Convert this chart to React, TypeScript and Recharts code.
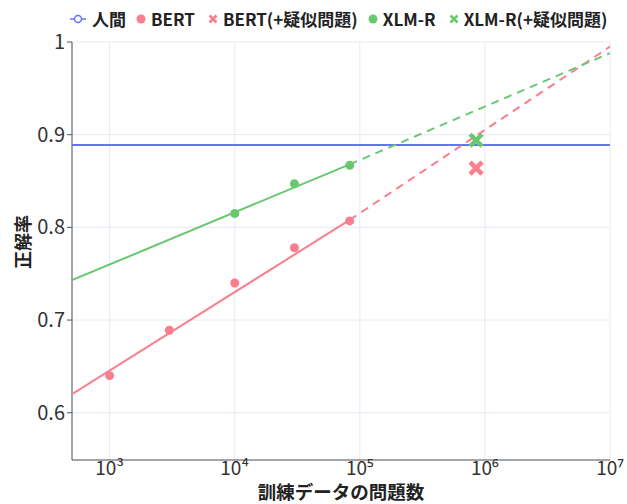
import React from 'react';
import {
  ComposedChart,
  Scatter,
  XAxis,
  YAxis,
  CartesianGrid,
} from 'recharts';

// values
const decadeTicks = [1e3, 1e4, 1e5, 1e6, 1e7];
const accTicks = [0.6, 0.7, 0.8, 0.9, 1];

const bertSizes = [1000, 3000, 10000, 30000, 83000];
const bertAcc = [0.64, 0.689, 0.74, 0.778, 0.807];
const xlmrSizes = [10000, 30000, 83000];
const xlmrAcc = [0.815, 0.847, 0.867];

const pseudoSizes = [850000];
const bertPseudoAcc = [0.864];
const xlmrPseudoAcc = [0.894];

const humanSpan = [500, 1e7];
const humanAcc = [0.889, 0.889];

// regression fits: solid over the data range, dashed beyond
const fitSolidSizes = [500, 83000];
const fitDashSizes = [83000, 1e7];
const bertFitSolid = [0.62, 0.808];
const bertFitDash = [0.808, 0.995];
const xlmrFitSolid = [0.743, 0.868];
const xlmrFitDash = [0.868, 0.988];

const BLUE = '#6275F3';
const RED = '#FB7E8C';
const GREEN = '#68C870';
const FONT = '"Noto Sans CJK JP", "Noto Sans", sans-serif';

const zip = (xs: number[], ys: number[]) => xs.map((x, i) => ({ x, y: ys[i] }));

const SUP: Record<string, string> = { '3': '³', '4': '⁴', '5': '⁵', '6': '⁶', '7': '⁷' };
const fmtDecade = (v: number) => '10' + SUP[String(Math.round(Math.log10(v)))];

const NoDot = () => <g />;

const Dot = (color: string) => (p: any) => (
  <circle cx={p.cx} cy={p.cy} r={4.5} fill={color} />
);

const Cross = (color: string) => (p: any) => (
  <path
    d={`M${p.cx - 6},${p.cy - 6}L${p.cx + 6},${p.cy + 6}M${p.cx - 6},${p.cy + 6}L${p.cx + 6},${p.cy - 6}`}
    stroke={color}
    strokeWidth={4.5}
  />
);

function LegendRow() {
  const txt = { fontWeight: 700, fontSize: 17, color: '#222', lineHeight: '20px' } as const;
  const mark = (ml: number) => ({ marginLeft: ml, marginRight: 4 });
  return (
    <div
      style={{
        position: 'absolute',
        top: 9,
        left: 69,
        display: 'flex',
        alignItems: 'center',
        fontFamily: FONT,
        whiteSpace: 'nowrap',
      }}
    >
      <svg width={18} height={12} style={{ marginRight: 5 }}>
        <line x1={1} y1={6} x2={17} y2={6} stroke={BLUE} strokeWidth={1.5} />
        <circle cx={9} cy={6} r={3.5} fill="#fff" stroke={BLUE} strokeWidth={1.5} />
      </svg>
      <span style={txt}>人間</span>

      <svg width={12} height={12} style={mark(9)}>
        <circle cx={6} cy={6} r={4.5} fill={RED} />
      </svg>
      <span style={txt}>BERT</span>

      <svg width={12} height={12} style={mark(12)}>
        <path d="M2.5,2.5L9.5,9.5M2.5,9.5L9.5,2.5" stroke={RED} strokeWidth={2.5} />
      </svg>
      <span style={txt}>BERT(+疑似問題)</span>

      <svg width={12} height={12} style={mark(9)}>
        <circle cx={6} cy={6} r={4.5} fill={GREEN} />
      </svg>
      <span style={txt}>XLM-R</span>

      <svg width={12} height={12} style={mark(12)}>
        <path d="M2.5,2.5L9.5,9.5M2.5,9.5L9.5,2.5" stroke={GREEN} strokeWidth={2.5} />
      </svg>
      <span style={txt}>XLM-R(+疑似問題)</span>
    </div>
  );
}

export default function App() {
  return (
    <div style={{ position: 'absolute', left: 0, top: 0, width: 627, height: 504, background: '#fff' }}>
      <LegendRow />
      <ComposedChart
        width={627}
        height={504}
        margin={{ top: 42, right: 17, left: 10, bottom: 0 }}
      >
        <CartesianGrid stroke="#E6EAF2" strokeWidth={1} />

        <XAxis
          dataKey="x"
          type="number"
          scale="log"
          domain={[500, 1e7]}
          allowDataOverflow
          ticks={decadeTicks}
          tickFormatter={fmtDecade}
          height={44}
          tickLine={false}
          tickSize={0}
          tickMargin={2}
          axisLine={{ stroke: '#555' }}
          tick={{ fill: '#333', fontSize: 19, fontFamily: FONT }}
          label={{
            content: () => (
              <text
                x={341}
                y={491}
                textAnchor="middle"
                dominantBaseline="central"
                fontFamily={FONT}
                fontWeight={700}
                fontSize={18.5}
                fill="#222"
              >
                訓練データの問題数
              </text>
            ),
          }}
        />

        <YAxis
          dataKey="y"
          type="number"
          domain={[0.549, 1]}
          allowDataOverflow
          ticks={accTicks}
          width={62}
          tickSize={5}
          tickMargin={2}
          tickLine={{ stroke: '#555' }}
          axisLine={{ stroke: '#555' }}
          tick={{ fill: '#333', fontSize: 20, fontFamily: FONT }}
          label={{
            content: () => (
              <text
                x={22}
                y={242}
                transform="rotate(-90 22 242)"
                textAnchor="middle"
                dominantBaseline="central"
                fontFamily={FONT}
                fontWeight={700}
                fontSize={18}
                fill="#222"
              >
                正解率
              </text>
            ),
          }}
        />

        <Scatter
          data={zip(humanSpan, humanAcc)}
          line={{ stroke: BLUE, strokeWidth: 2 }}
          shape={NoDot}
          isAnimationActive={false}
        />
        <Scatter
          data={zip(fitSolidSizes, bertFitSolid)}
          line={{ stroke: RED, strokeWidth: 2 }}
          shape={NoDot}
          isAnimationActive={false}
        />
        <Scatter
          data={zip(fitDashSizes, bertFitDash)}
          line={{ stroke: RED, strokeWidth: 2, strokeDasharray: '8 6' }}
          shape={NoDot}
          isAnimationActive={false}
        />
        <Scatter
          data={zip(fitSolidSizes, xlmrFitSolid)}
          line={{ stroke: GREEN, strokeWidth: 2 }}
          shape={NoDot}
          isAnimationActive={false}
        />
        <Scatter
          data={zip(fitDashSizes, xlmrFitDash)}
          line={{ stroke: GREEN, strokeWidth: 2, strokeDasharray: '8 6' }}
          shape={NoDot}
          isAnimationActive={false}
        />

        <Scatter data={zip(bertSizes, bertAcc)} shape={Dot(RED)} isAnimationActive={false} />
        <Scatter data={zip(xlmrSizes, xlmrAcc)} shape={Dot(GREEN)} isAnimationActive={false} />
        <Scatter data={zip(pseudoSizes, bertPseudoAcc)} shape={Cross(RED)} isAnimationActive={false} />
        <Scatter data={zip(pseudoSizes, xlmrPseudoAcc)} shape={Cross(GREEN)} isAnimationActive={false} />
      </ComposedChart>
    </div>
  );
}
